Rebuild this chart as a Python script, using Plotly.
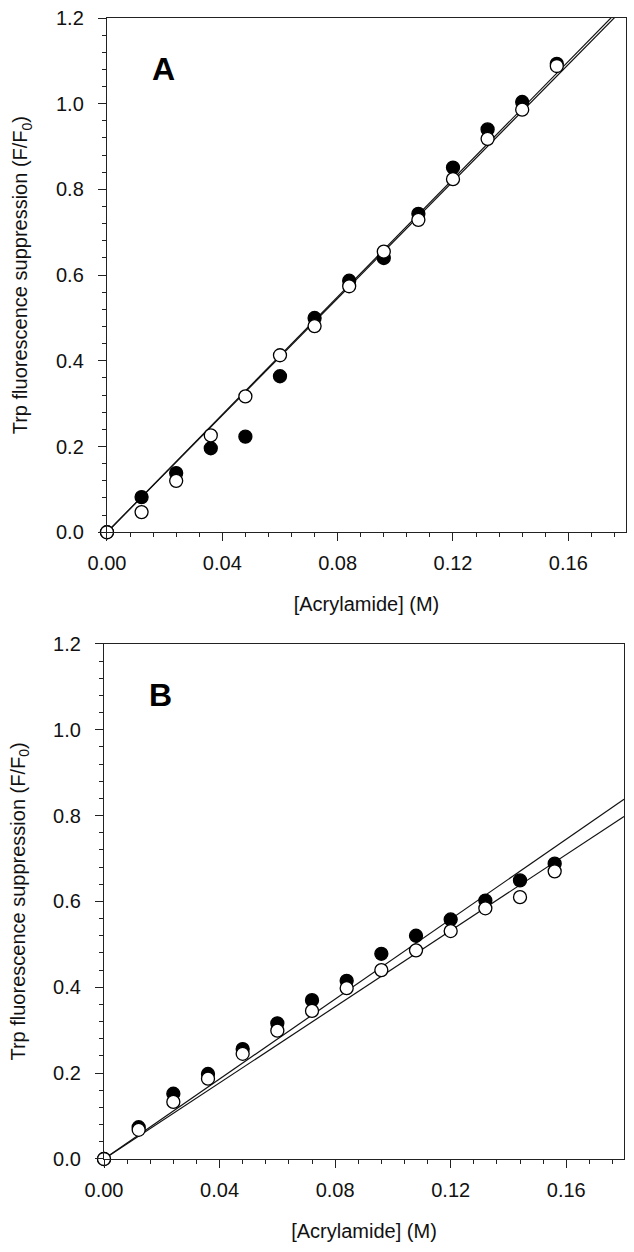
import plotly.graph_objects as go

# ---- data ----
conc = [0, 0.012, 0.024, 0.036, 0.048, 0.060, 0.072, 0.084, 0.096, 0.108, 0.120, 0.132, 0.144, 0.156]

A_filled = [0, 0.082, 0.138, 0.196, 0.223, 0.364, 0.500, 0.587, 0.640, 0.743, 0.851, 0.940, 1.004, 1.093]
A_open = [0, 0.047, 0.120, 0.226, 0.317, 0.413, 0.481, 0.574, 0.655, 0.729, 0.824, 0.918, 0.986, 1.088]

B_filled = [0, 0.074, 0.152, 0.198, 0.256, 0.316, 0.370, 0.415, 0.478, 0.520, 0.558, 0.602, 0.649, 0.688]
B_open = [0, 0.068, 0.133, 0.187, 0.245, 0.299, 0.345, 0.398, 0.440, 0.486, 0.531, 0.584, 0.610, 0.670]

fit_x = [0, 0.18]
A_fit_filled = [0, 1.236]
A_fit_open = [0, 1.228]
B_fit_filled = [0, 0.838]
B_fit_open = [0, 0.798]

panel_labels = ["A", "B"]
x_title = "[Acrylamide] (M)"
y_title = "Trp fluorescence suppression (F/F<sub>0</sub>)"

FONT = "Liberation Sans, Arial, sans-serif"
AX = "#222222"

fig = go.Figure()

panels = [
    ("x", "y", A_filled, A_open, A_fit_filled, A_fit_open),
    ("x2", "y2", B_filled, B_open, B_fit_filled, B_fit_open),
]

for xa, ya, filled, opn, ff, fo in panels:
    for fy in (ff, fo):
        fig.add_trace(go.Scatter(x=fit_x, y=fy, mode="lines", xaxis=xa, yaxis=ya,
                                 line=dict(color="#111111", width=1.2), showlegend=False,
                                 hoverinfo="skip"))
    fig.add_trace(go.Scatter(x=conc, y=filled, mode="markers", xaxis=xa, yaxis=ya,
                             marker=dict(size=13, color="black", line=dict(color="black", width=1.3)),
                             cliponaxis=False, showlegend=False))
    fig.add_trace(go.Scatter(x=conc, y=opn, mode="markers", xaxis=xa, yaxis=ya,
                             marker=dict(size=13, color="white", line=dict(color="black", width=1.3)),
                             cliponaxis=False, showlegend=False))

def xaxis(domain, anchor):
    return dict(domain=domain, anchor=anchor, range=[0, 0.18], dtick=0.04, tick0=0,
                tickformat=".2f", ticks="outside", ticklen=8, tickwidth=1.2, tickcolor=AX,
                minor=dict(dtick=0.008, tick0=0, ticks="outside", ticklen=4, tickwidth=1.1, tickcolor=AX),
                showline=True, linecolor=AX, linewidth=1.3, mirror=True, showgrid=False,
                zeroline=False, ticklabelstandoff=5,
                tickfont=dict(family=FONT, size=20, color="#111"),
                title=dict(text=x_title, font=dict(family=FONT, size=20, color="#111"), standoff=23))

def yaxis(domain, anchor):
    return dict(domain=domain, anchor=anchor, range=[0, 1.2], dtick=0.2, tick0=0,
                tickformat=".1f", ticks="outside", ticklen=8, tickwidth=1.2, tickcolor=AX,
                minor=dict(dtick=0.04, tick0=0, ticks="outside", ticklen=4, tickwidth=1.1, tickcolor=AX),
                showline=True, linecolor=AX, linewidth=1.3, mirror=True, showgrid=False,
                zeroline=False, ticklabelstandoff=10,
                tickfont=dict(family=FONT, size=20, color="#111"),
                title=dict(text=y_title, font=dict(family=FONT, size=20, color="#111"), standoff=22))

fig.update_layout(
    width=634, height=1252,
    margin=dict(l=104, r=7, t=14, b=93),
    paper_bgcolor="white", plot_bgcolor="white",
    xaxis=xaxis([0.0057, 1.0], "y"),
    yaxis=yaxis([0.5493, 1.0], "x"),
    xaxis2=xaxis([0.0, 0.9962], "y2"),
    yaxis2=yaxis([0.0, 0.4515], "x2"),
)

for lab, xr, yr in zip(panel_labels, ["x", "x2"], ["y", "y2"]):
    fig.add_annotation(x=0.0197, y=1.08, xref=xr, yref=yr, text="<b>%s</b>" % lab,
                       showarrow=False, font=dict(family=FONT, size=32, color="black"))

fig.write_html("out.html", config={"displayModeBar": False},
               post_script="document.body.style.margin='0';document.body.style.padding='0';")
